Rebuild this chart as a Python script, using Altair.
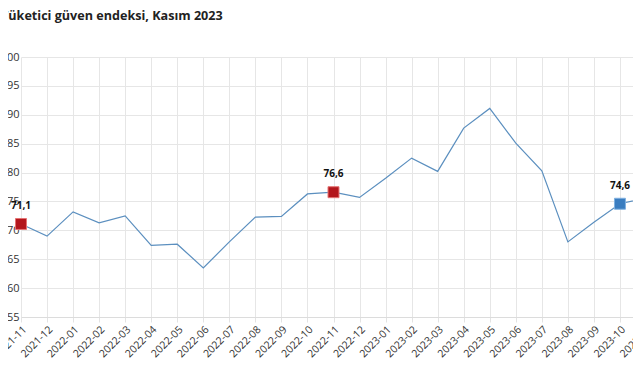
import altair as alt
import pandas as pd

months = ["2021-11", "2021-12", "2022-01", "2022-02", "2022-03", "2022-04", "2022-05",
          "2022-06", "2022-07", "2022-08", "2022-09", "2022-10", "2022-11", "2022-12",
          "2023-01", "2023-02", "2023-03", "2023-04", "2023-05", "2023-06", "2023-07",
          "2023-08", "2023-09", "2023-10", "2023-11"]
values = [71.1, 69.0, 73.2, 71.3, 72.5, 67.4, 67.6, 63.5, 68.0, 72.3, 72.4, 76.3, 76.6,
          75.7, 79.0, 82.5, 80.2, 87.7, 91.1, 85.1, 80.3, 68.0, 71.4, 74.6, 75.6]
highlight = ["red", "", "", "", "", "", "", "", "", "", "", "", "red", "", "", "", "", "",
             "", "", "", "", "", "blue", "red"]

df = pd.DataFrame({"month": months, "value": values, "hl": highlight})
df["label"] = df["value"].map(lambda v: f"{v:.1f}".replace(".", ","))

FONT = "Open Sans"

x = alt.X("month:O", sort=months, scale=alt.Scale(type="point", padding=0, range=[0, 625]),
          axis=alt.Axis(title=None, labelAngle=315, labelFontSize=10.5, labelColor="#333",
                        labelFont=FONT, tickColor="#e3e3e3", tickSize=5, domainColor="#dcdcdc",
                        gridColor="#e6e6e6", grid=True, labelPadding=2))
y = alt.Y("value:Q", scale=alt.Scale(domain=[55, 100], nice=False, zero=False),
          axis=alt.Axis(title=None, values=list(range(55, 101, 5)), labelFontSize=11,
                        labelColor="#333", labelFont=FONT, tickSize=0, labelPadding=2,
                        domain=False, gridColor="#e6e6e6"))

base = alt.Chart(df).encode(x=x, y=y)

line = base.mark_line(color="#5b8fbf", strokeWidth=1.2)

pts = base.transform_filter("datum.hl != ''").mark_point(
    shape="square", filled=True, size=120, opacity=1, strokeWidth=1
).encode(
    fill=alt.Fill("hl:N", scale=alt.Scale(domain=["red", "blue"], range=["#b3161c", "#3a7dc0"]), legend=None),
    stroke=alt.Stroke("hl:N", scale=alt.Scale(domain=["red", "blue"], range=["#e57373", "#7fb0e0"]), legend=None),
)

txt = base.transform_filter("datum.hl != ''").mark_text(
    dy=-18, fontSize=10, fontWeight="bold", font=FONT, color="#111"
).encode(text="label:N")

chart = alt.layer(line, pts, txt).properties(
    width=612, height=260,
    padding={"left": 13, "top": 49, "right": 0, "bottom": 50},
    autosize=alt.AutoSizeParams(type="none"),
    title=alt.TitleParams(text="Tüketici güven endeksi, Kasım 2023", anchor="start", frame="group",
                          dx=-20, offset=18, baseline="alphabetic", font=FONT, fontSize=12.6,
                          fontWeight="bold", color="#222"),
).configure_view(stroke=None)

chart.save("out.html", embed_options={"renderer": "svg", "actions": False})
